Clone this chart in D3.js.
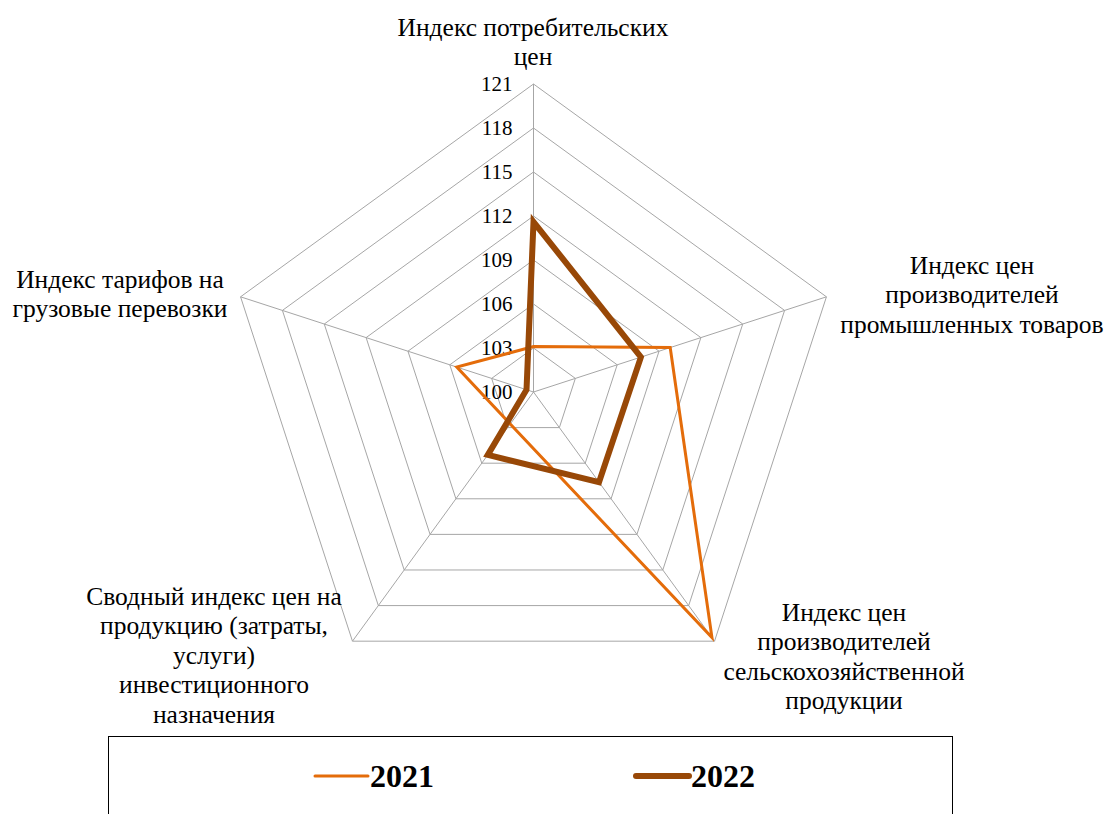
<!DOCTYPE html>
<html lang="ru">
<head>
<meta charset="UTF-8">
<title>Radar</title>
<script src="https://d3js.org/d3.v7.min.js"></script>
<style>
  body { margin: 0; background: #fff; }
  .grid { fill: none; stroke: #a6a6a6; stroke-width: 1; }
</style>
</head>
<body>
<div id="chart"></div>
<script>
  // categories (axes), clockwise from the top
  const categories = [
    ["Индекс потребительских", "цен"],
    ["Индекс цен", "производителей", "промышленных товаров"],
    ["Индекс цен", "производителей", "сельскохозяйственной", "продукции"],
    ["Сводный индекс цен на", "продукцию (затраты,", "услуги)", "инвестиционного", "назначения"],
    ["Индекс тарифов на", "грузовые перевозки"]
  ];
  const values2021 = [103.1, 109.8, 120.7, 102.7, 105.5];
  const values2022 = [111.6, 107.7, 107.6, 105.3, 100.5];
  const ticks = [100, 103, 106, 109, 112, 115, 118, 121];

  const width = 1110, height = 814;
  const cx = 533.5, cy = 392, R = 308;
  const font = "'Liberation Serif', 'DejaVu Serif', serif";

  // label centres, top line y (layout only)
  const labelPos = [
    { x: 533, y: 27 },
    { x: 972, y: 265 },
    { x: 844, y: 612 },
    { x: 214, y: 596 },
    { x: 120, y: 279 }
  ];

  const svg = d3.select("#chart").append("svg")
    .attr("width", width).attr("height", height)
    .attr("font-family", font);

  const r = d3.scaleLinear().domain([100, 121]).range([0, R]);
  const angle = i => i * 2 * Math.PI / categories.length;
  const pt = (i, v) => [cx + r(v) * Math.sin(angle(i)), cy - r(v) * Math.cos(angle(i))];

  // grid rings
  const g = svg.append("g");
  ticks.slice(1).forEach(t => {
    g.append("polygon").attr("class", "grid")
      .attr("points", categories.map((c, i) => pt(i, t).join(",")).join(" "));
  });
  // spokes
  categories.forEach((c, i) => {
    const p = pt(i, 121);
    g.append("line").attr("class", "grid")
      .attr("x1", cx).attr("y1", cy).attr("x2", p[0]).attr("y2", p[1]);
  });

  // tick labels
  svg.selectAll(".tick").data(ticks).enter().append("text")
    .attr("class", "tick")
    .attr("x", cx - 21)
    .attr("y", d => cy - r(d))
    .attr("dy", "0.35em")
    .attr("text-anchor", "end")
    .style("font-size", "21px")
    .text(d => d);

  // series
  const line = d3.line().curve(d3.curveLinearClosed);
  const series = [
    { name: "2021", values: values2021, color: "#E46C0A", w: 3 },
    { name: "2022", values: values2022, color: "#984807", w: 6 }
  ];
  series.forEach(s => {
    svg.append("path")
      .attr("d", line(s.values.map((v, i) => pt(i, v))))
      .attr("fill", "none")
      .attr("stroke", s.color)
      .attr("stroke-width", s.w)
      .attr("stroke-linejoin", "miter");
  });

  // category labels
  categories.forEach((lines, i) => {
    const t = svg.append("text")
      .attr("text-anchor", "middle")
      .style("font-size", "25.5px");
    lines.forEach((ln, k) => {
      t.append("tspan")
        .attr("x", labelPos[i].x)
        .attr("y", labelPos[i].y + k * 29.5)
        .attr("dy", "0.35em")
        .text(ln);
    });
  });

  // legend
  svg.append("rect")
    .attr("x", 108.5).attr("y", 736.5)
    .attr("width", 844).attr("height", 100)
    .attr("fill", "none").attr("stroke", "#000").attr("stroke-width", 1);
  const lx = [315, 636];
  series.forEach((s, i) => {
    svg.append("line")
      .attr("x1", lx[i]).attr("x2", lx[i] + 53)
      .attr("y1", 776).attr("y2", 776)
      .attr("stroke", s.color).attr("stroke-width", s.w)
      .attr("stroke-linecap", "round");
    svg.append("text")
      .attr("x", lx[i] + 55).attr("y", 776)
      .attr("dy", "0.35em")
      .style("font-size", "32px").style("font-weight", "bold")
      .text(s.name);
  });
</script>
</body>
</html>
